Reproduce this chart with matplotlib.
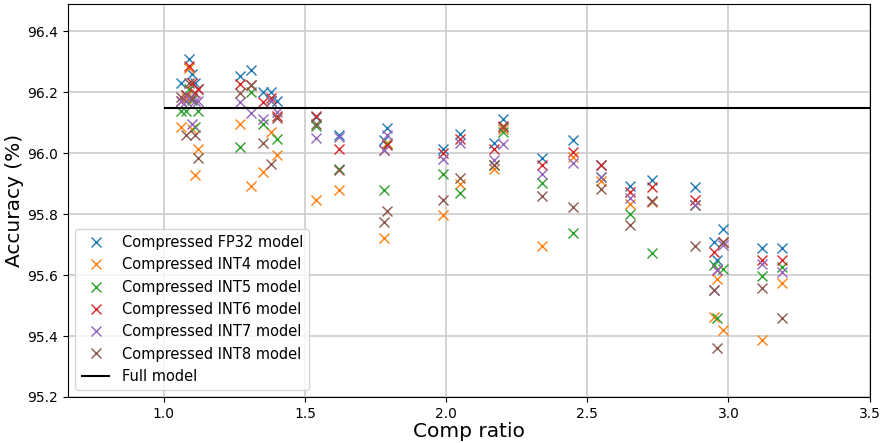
import matplotlib
matplotlib.use('Agg')
from matplotlib import pyplot as plt

comp_ratio = [1.06, 1.08, 1.09, 1.10, 1.11, 1.12, 1.27, 1.31, 1.35, 1.38, 1.40,
              1.54, 1.62, 1.78, 1.79, 1.99, 2.05, 2.17, 2.20, 2.34, 2.45, 2.55,
              2.65, 2.73, 2.88, 2.95, 2.96, 2.98, 3.12, 3.19]

acc_fp32 = [96.23, 96.19, 96.31, 96.26, 96.23, 96.21, 96.254, 96.273, 96.202, 96.202, 96.17,
            96.12, 96.06, 96.044, 96.082, 96.013, 96.062, 96.033, 96.113, 95.984, 96.042, 95.96,
            95.893, 95.912, 95.89, 95.71, 95.651, 95.75, 95.69, 95.69]
acc_int4 = [96.085, 96.18, 96.28, 96.08, 95.93, 96.015, 96.095, 95.894, 95.937, 96.07, 95.995,
            95.847, 95.878, 95.721, 96.035, 95.798, 95.90, 95.948, 96.08, 95.696, 95.989, 95.91,
            95.834, 95.84, 95.83, 95.463, 95.587, 95.42, 95.387, 95.573]
acc_int5 = [96.14, 96.14, 96.21, 96.175, 96.085, 96.14, 96.02, 96.202, 96.096, 96.17, 96.048,
            96.09, 95.948, 95.88, 96.03, 95.932, 95.869, 95.962, 96.071, 95.902, 95.738, 95.921,
            95.801, 95.672, 95.83, 95.632, 95.458, 95.619, 95.598, 95.627]
acc_int6 = [96.17, 96.19, 96.285, 96.232, 96.197, 96.21, 96.226, 96.224, 96.167, 96.18, 96.122,
            96.122, 96.015, 96.011, 96.027, 96.0, 96.046, 96.014, 96.09, 95.962, 96.003, 95.96,
            95.874, 95.889, 95.848, 95.676, 95.616, 95.71, 95.649, 95.651]
acc_int7 = [96.17, 96.17, 96.18, 96.095, 96.17, 96.17, 96.167, 96.133, 96.113, 96.17, 96.137,
            96.049, 96.052, 96.011, 96.06, 95.98, 96.035, 95.978, 96.03, 95.932, 95.967, 95.921,
            95.852, 95.842, 95.83, 95.551, 95.616, 95.70, 95.638, 95.61]
acc_int8 = [96.184, 96.06, 96.23, 96.18, 96.06, 95.983, 96.197, 96.224, 96.035, 95.965, 96.115,
            96.096, 95.945, 95.774, 95.812, 95.847, 95.918, 95.962, 96.087, 95.86, 95.823, 95.882,
            95.764, 95.842, 95.695, 95.551, 95.36, 95.71, 95.556, 95.458]

full_acc = 96.15
full_range = (1.0, 3.5)

series = [
    ('Compressed FP32 model', acc_fp32),
    ('Compressed INT4 model', acc_int4),
    ('Compressed INT5 model', acc_int5),
    ('Compressed INT6 model', acc_int6),
    ('Compressed INT7 model', acc_int7),
    ('Compressed INT8 model', acc_int8),
]

fig = plt.figure(figsize=(8.81, 4.43), dpi=100)
ax = fig.add_axes([0.077, 0.104, 0.910, 0.887])

for label, acc in series:
    ax.plot(comp_ratio, acc, 'x', label=label, markersize=6.5)
ax.hlines(full_acc, full_range[0], full_range[1], color='k', label='Full model')

ax.set_xlim(0.66, 3.5)
ax.set_ylim(95.2, 96.49)
ax.grid(True, color='#cccccc', linewidth=1.2)
ax.set_axisbelow(True)
ax.tick_params(labelsize=10)
ax.set_xlabel('Comp ratio', fontsize=14.5, labelpad=1)
ax.set_ylabel('Accuracy (%)', fontsize=14.5, labelpad=2)
ax.legend(loc='lower left', fontsize=10.5)

plt.savefig('out.png', dpi=100)
